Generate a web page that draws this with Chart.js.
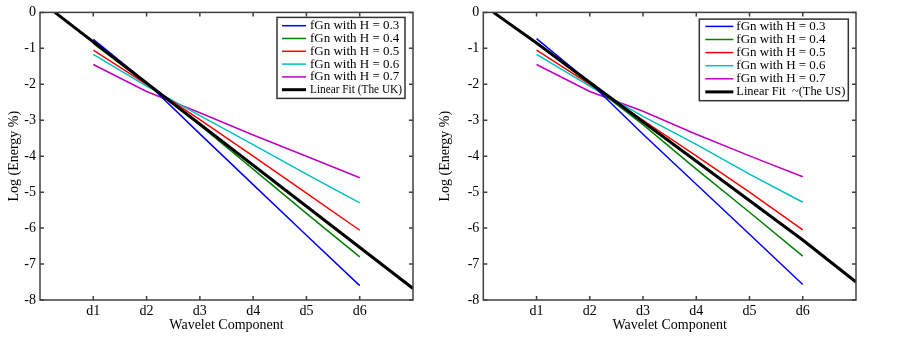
<!DOCTYPE html>
<html>
<head>
<meta charset="utf-8">
<script src="https://cdn.jsdelivr.net/npm/chart.js@4.4.1/dist/chart.umd.min.js"></script>
<style>
body { margin: 0; background: #fff; }
#left { position: absolute; left: 0; top: 0; }
#right { position: absolute; left: 437px; top: 0; }
</style>
</head>
<body>
<canvas id="left" width="437" height="337"></canvas>
<canvas id="right" width="466" height="337"></canvas>
<script>
// wavelet levels d1..d6
var components = [1, 2, 3, 4, 5, 6];
var tickLabels = ['d1', 'd2', 'd3', 'd4', 'd5', 'd6'];
var yTicks = [0, -1, -2, -3, -4, -5, -6, -7, -8];
var seriesNames = ['fGn with H = 0.3', 'fGn with H = 0.4', 'fGn with H = 0.5', 'fGn with H = 0.6', 'fGn with H = 0.7'];

// left panel (The UK)
var ukH03 = [-0.75, -1.95, -3.38, -4.79, -6.2, -7.6];
var ukH04 = [-0.86, -1.98, -3.14, -4.36, -5.59, -6.8];
var ukH05 = [-1.05, -2.0, -2.98, -4.0, -5.03, -6.06];
var ukH06 = [-1.17, -2.05, -2.87, -3.68, -4.5, -5.3];
var ukH07 = [-1.45, -2.2, -2.79, -3.41, -4.0, -4.6];
var ukFitX = [0.28, 7];
var ukFitY = [0, -7.68];

// right panel (The US)
var usH03 = [-0.73, -1.95, -3.39, -4.78, -6.17, -7.57];
var usH04 = [-0.85, -1.98, -3.12, -4.36, -5.56, -6.78];
var usH05 = [-1.05, -2.0, -3.0, -3.99, -5.0, -6.05];
var usH06 = [-1.17, -2.05, -2.89, -3.67, -4.5, -5.28];
var usH07 = [-1.45, -2.2, -2.75, -3.39, -3.99, -4.57];
var usFitX = [0.19, 1, 6, 7];
var usFitY = [0, -0.85, -6.33, -7.5];

var colors = ['#0000ff', '#008000', '#ff0000', '#00bfbf', '#bf00bf'];
var serif = '"Liberation Serif", "Times New Roman", serif';

function pts(xs, ys) {
    return xs.map(function(x, i) { return {x: x, y: ys[i]}; });
}

var boxPlugin = {
    id: 'matlabBox',
    afterDraw: function(chart, args, o) {
        var ctx = chart.ctx, a = chart.chartArea;
        var xs = chart.scales.x, ys = chart.scales.y;
        ctx.save();
        ctx.strokeStyle = '#404040';
        ctx.lineWidth = 1.5;
        ctx.beginPath();
        components.forEach(function(c) {
            var px = xs.getPixelForValue(c);
            ctx.moveTo(px, a.bottom); ctx.lineTo(px, a.bottom - 4);
            ctx.moveTo(px, a.top); ctx.lineTo(px, a.top + 4);
        });
        yTicks.forEach(function(v) {
            var py = ys.getPixelForValue(v);
            ctx.moveTo(a.left, py); ctx.lineTo(a.left + 4, py);
            ctx.moveTo(a.right, py); ctx.lineTo(a.right - 4, py);
        });
        ctx.stroke();
        ctx.strokeRect(a.left, a.top, a.right - a.left, a.bottom - a.top);

        // legend box
        var lg = o.legend;
        var bx = a.right - lg.right - lg.width, by = a.top + lg.top;
        ctx.fillStyle = '#fff';
        ctx.fillRect(bx, by, lg.width, lg.height);
        ctx.strokeStyle = '#333';
        ctx.strokeRect(bx, by, lg.width, lg.height);
        ctx.font = '13px ' + serif;
        ctx.textBaseline = 'middle';
        chart.data.datasets.forEach(function(ds, i) {
            var y = by + lg.first + i * lg.step;
            ctx.strokeStyle = ds.borderColor;
            ctx.lineWidth = ds.borderWidth;
            ctx.beginPath();
            ctx.moveTo(bx + lg.lineFrom, y);
            ctx.lineTo(bx + lg.lineTo, y);
            ctx.stroke();
            ctx.fillStyle = '#000';
            ctx.fillText(ds.label, bx + lg.text, y, lg.width - lg.text - 3);
        });
        ctx.restore();
    }
};

function makeChart(id, series, fitX, fitY, fitLabel, axisWidth, titlePad, padRight, legend) {
    var datasets = series.map(function(s, i) {
        return {
            label: seriesNames[i],
            data: pts(components, s),
            borderColor: colors[i],
            borderWidth: 1.5,
            pointRadius: 0,
            order: 1
        };
    });
    datasets.push({
        label: fitLabel,
        data: pts(fitX, fitY),
        borderColor: '#000',
        borderWidth: 3,
        pointRadius: 0,
        order: 0
    });

    return new Chart(document.getElementById(id), {
        type: 'line',
        data: { datasets: datasets },
        plugins: [boxPlugin],
        options: {
            responsive: false,
            animation: false,
            layout: { padding: { top: 10, right: padRight, bottom: 0, left: 0 } },
            plugins: {
                legend: { display: false },
                tooltip: { enabled: false },
                matlabBox: { legend: legend }
            },
            scales: {
                x: {
                    type: 'linear',
                    min: 0,
                    max: 7,
                    grid: { display: false, drawTicks: false },
                    border: { display: false },
                    ticks: {
                        stepSize: 1,
                        maxRotation: 0,
                        padding: 3,
                        color: '#000',
                        font: { family: serif, size: 14 },
                        callback: function(v) { return tickLabels[v - 1] || ''; }
                    },
                    title: {
                        display: true,
                        text: 'Wavelet Component',
                        color: '#000',
                        font: { family: serif, size: 14 },
                        padding: { top: 0, bottom: 3 }
                    },
                    afterFit: function(scale) { scale.height = 37; }
                },
                y: {
                    min: -8,
                    max: 0,
                    grid: { display: false, drawTicks: false },
                    border: { display: false },
                    ticks: {
                        stepSize: 1,
                        padding: 4,
                        color: '#000',
                        font: { family: serif, size: 14 }
                    },
                    title: {
                        display: true,
                        text: 'Log (Energy %)',
                        color: '#000',
                        font: { family: serif, size: 14 },
                        padding: { top: titlePad, bottom: 0 }
                    },
                    afterFit: function(scale) { scale.width = axisWidth; }
                }
            }
        }
    });
}

makeChart('left', [ukH03, ukH04, ukH05, ukH06, ukH07], ukFitX, ukFitY, 'Linear Fit (The UK)',
    40, 5.5, 24,
    { right: 8, top: 5, width: 128, height: 81, first: 8.3, step: 12.8, lineFrom: 5, lineTo: 29, text: 33 });

makeChart('right', [usH03, usH04, usH05, usH06, usH07], usFitX, usFitY, 'Linear Fit  ~(The US)',
    46.3, 0, 47,
    { right: 7.7, top: 6.7, width: 149, height: 81.6, first: 7.3, step: 13.1, lineFrom: 6, lineTo: 34, text: 37 });
</script>
</body>
</html>
